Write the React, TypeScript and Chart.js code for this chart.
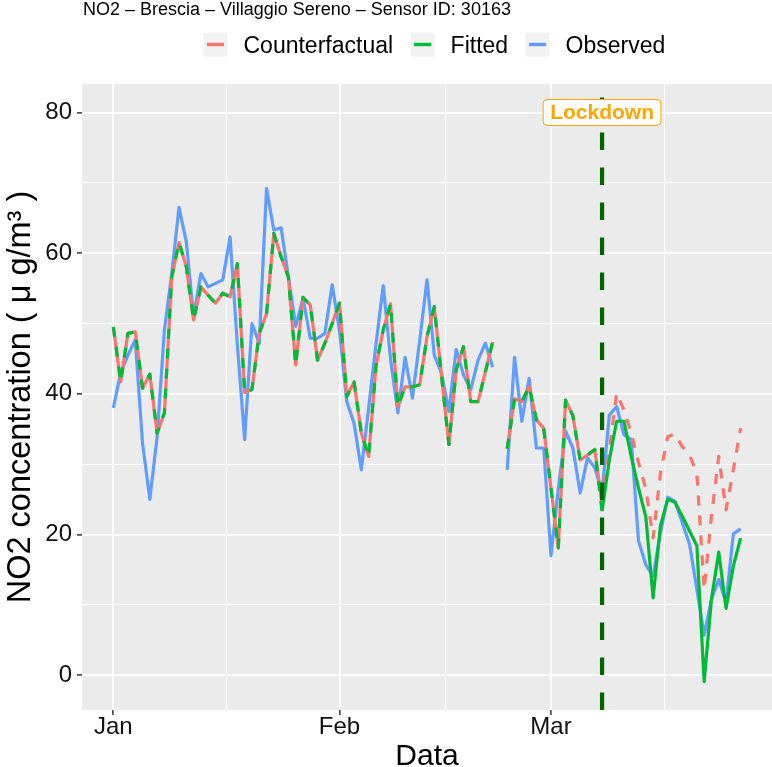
import React, { useEffect, useRef } from 'react';
import { Chart, registerables } from 'chart.js';

Chart.register(...registerables);

// ---------------- data ----------------
const START_DATE = '2020-01-01';
const LOCKDOWN_DATE = '2020-03-08';
const LOCKDOWN_LABEL = 'Lockdown';
const LOCKDOWN_LABEL_Y = 80;

const TITLE = 'NO2 – Brescia – Villaggio Sereno – Sensor ID: 30163';
const X_TITLE = 'Data';
const Y_TITLE = 'NO2 concentration ( μ g/m³ )';

const MONTH_TICK_DATES = ['2020-01-01', '2020-02-01', '2020-03-01'];
const MONTH_TICK_LABELS = ['Jan', 'Feb', 'Mar'];
const MINOR_TICK_DATES = ['2020-01-16T12:00', '2020-02-15T12:00', '2020-03-16T12:00'];
const Y_MAJOR_TICKS = [0, 20, 40, 60, 80];
const Y_MINOR_TICKS = [10, 30, 50, 70];

const SERIES_NAMES = ['Counterfactual', 'Fitted', 'Observed'];

// daily values from 2020-01-01 to 2020-03-27 (null = missing day)
const observed: (number | null)[] = [
  38.0, 43.0, 45.5, 47.7, 33.0, 25.0, 33.9, 49.1, 57.0, 66.5,
  61.6, 51.0, 57.1, 55.2, 55.7, 56.2, 62.3, 47.0, 33.5, 50.0,
  47.2, 69.2, 63.3, 63.6, 56.6, 49.6, 53.6, 47.9, 47.9, 48.6,
  55.5, 49.0, 38.9, 35.8, 29.2, 38.0, 47.0, 55.4, 45.0, 37.3,
  45.2, 39.4, 47.6, 56.2, 45.5, 42.9, 37.5, 46.3, 42.7, 40.6,
  44.8, 47.2, 43.8, null, 29.2, 45.2, 36.1, 42.2, 32.3, 32.3,
  17.0, 26.5, 34.7, 32.3, 25.9, 30.9, 29.5, 26.0, 37.0, 38.2,
  34.2, 33.5, 19.1, 15.7, 14.1, 20.2, 25.3, 24.7, 21.7, 18.6,
  12.2, 5.7, 10.8, 13.6, 10.3, 20.1, 20.8,
];

const counterfactual: (number | null)[] = [
  49.5, 41.7, 48.6, 48.8, 40.8, 42.8, 34.4, 37.3, 56.6, 61.5,
  58.1, 50.5, 55.2, 54.0, 52.9, 54.3, 53.8, 58.5, 40.2, 40.6,
  48.6, 51.4, 62.8, 59.5, 56.6, 44.1, 53.7, 52.6, 44.8, 47.2,
  50.0, 52.9, 39.6, 41.7, 34.4, 31.1, 43.9, 49.1, 52.8, 38.2,
  41.0, 41.0, 41.3, 48.1, 52.4, 42.5, 32.8, 43.4, 46.7, 38.9,
  38.9, 43.1, 47.4, null, 32.2, 39.3, 38.9, 41.0, 36.3, 35.1,
  26.6, 18.1, 39.1, 36.9, 30.6, 31.3, 32.1, 24.3, 32.0, 40.1,
  37.7, 34.4, 30.2, 26.5, 19.5, 28.7, 33.9, 34.3, 32.5, 31.3,
  28.7, 12.2, 22.6, 31.1, 23.5, 29.2, 35.1,
];

const fitted: (number | null)[] = [
  49.5, 41.7, 48.6, 48.8, 40.8, 42.8, 34.4, 37.3, 56.6, 61.5,
  58.1, 50.5, 55.2, 54.0, 52.9, 54.3, 53.8, 58.5, 40.2, 40.6,
  48.6, 51.4, 62.8, 59.5, 56.6, 44.1, 53.7, 52.6, 44.8, 47.2,
  50.0, 52.9, 39.6, 41.7, 34.4, 31.1, 43.9, 49.1, 52.8, 38.2,
  41.0, 41.0, 41.3, 48.1, 52.4, 42.5, 32.8, 43.4, 46.7, 38.9,
  38.9, 43.1, 47.4, null, 32.2, 39.3, 38.9, 41.0, 36.3, 35.1,
  26.6, 18.1, 39.1, 36.9, 30.6, 31.3, 32.1, 23.3, 30.6, 36.1,
  36.1, 31.1, 26.6, 22.5, 11.0, 21.2, 25.0, 24.6, 22.6, 20.5,
  18.4, -0.9, 10.8, 17.5, 9.5, 15.5, 19.5,
];

// ---------------- styles ----------------
const COLORS = { Counterfactual: '#F8766D', Fitted: '#00BA38', Observed: '#619CFF' } as Record<string, string>;
const FONT = '"Liberation Sans", Arial, Helvetica, sans-serif';
const PANEL_BG = '#EBEBEB';
const LINE_W = 3.2;
const DASH = [10, 10];

function dayIndex(s: string): number {
  const iso = s.length > 10 ? s + ':00Z' : s + 'T00:00:00Z';
  const base = Date.parse(START_DATE + 'T00:00:00Z');
  return (Date.parse(iso) - base) / 86400000;
}

const LOCK_IDX = dayIndex(LOCKDOWN_DATE);
const MAJOR_X = MONTH_TICK_DATES.map(dayIndex);
const MINOR_X = MINOR_TICK_DATES.map(dayIndex);

function toPoints(arr: (number | null)[]) {
  return arr.map((v, i) => ({ x: i, y: v }));
}

export default function App() {
  const ref = useRef<HTMLCanvasElement>(null);

  useEffect(() => {
    const canvas = ref.current;
    if (!canvas) return;

    const n = observed.length - 1;
    const xPad = n * 0.05;
    const allY = [...observed, ...counterfactual, ...fitted, LOCKDOWN_LABEL_Y].filter(
      (v) => v !== null,
    ) as number[];
    const yLo = Math.min(...allY);
    const yHi = Math.max(...allY);
    const yPad = (yHi - yLo) * 0.05;

    const panelBg = {
      id: 'panelBg',
      beforeDraw(chart: any) {
        const { ctx, chartArea: a } = chart;
        ctx.save();
        ctx.fillStyle = PANEL_BG;
        ctx.fillRect(a.left, a.top, a.right - a.left, a.bottom - a.top);
        ctx.restore();
      },
    };

    const lockdown = {
      id: 'lockdown',
      afterDatasetsDraw(chart: any) {
        const { ctx, chartArea: a, scales } = chart;
        const x = scales.x.getPixelForValue(LOCK_IDX);
        ctx.save();
        ctx.beginPath();
        ctx.rect(a.left, a.top, a.right - a.left, a.bottom - a.top);
        ctx.clip();
        ctx.strokeStyle = '#006400';
        ctx.lineWidth = 4.2;
        ctx.setLineDash([17.5, 17.5]);
        ctx.beginPath();
        ctx.moveTo(x, a.bottom);
        ctx.lineTo(x, a.top);
        ctx.stroke();
        ctx.restore();

        const y = scales.y.getPixelForValue(LOCKDOWN_LABEL_Y);
        ctx.save();
        ctx.font = `bold 21px ${FONT}`;
        const tw = ctx.measureText(LOCKDOWN_LABEL).width;
        const w = tw + 14;
        const h = 26;
        const bx = x - w / 2;
        const by = y - h / 2;
        const r = 4;
        ctx.beginPath();
        ctx.moveTo(bx + r, by);
        ctx.lineTo(bx + w - r, by);
        ctx.arcTo(bx + w, by, bx + w, by + r, r);
        ctx.lineTo(bx + w, by + h - r);
        ctx.arcTo(bx + w, by + h, bx + w - r, by + h, r);
        ctx.lineTo(bx + r, by + h);
        ctx.arcTo(bx, by + h, bx, by + h - r, r);
        ctx.lineTo(bx, by + r);
        ctx.arcTo(bx, by, bx + r, by, r);
        ctx.closePath();
        ctx.fillStyle = '#FFFFFF';
        ctx.fill();
        ctx.strokeStyle = '#FFA500';
        ctx.lineWidth = 1;
        ctx.stroke();
        ctx.fillStyle = '#FFA500';
        ctx.textAlign = 'center';
        ctx.textBaseline = 'middle';
        ctx.fillText(LOCKDOWN_LABEL, x, y + 1);
        ctx.restore();
      },
    };

    const header = {
      id: 'header',
      afterDraw(chart: any) {
        const { ctx, chartArea: a } = chart;
        ctx.save();
        ctx.fillStyle = '#000';
        ctx.textAlign = 'left';
        ctx.textBaseline = 'alphabetic';
        ctx.font = `18px ${FONT}`;
        ctx.fillText(TITLE, a.left + 1, 14.5);

        // legend
        ctx.font = `23px ${FONT}`;
        let x = 203.5;
        const keyTop = 32.5;
        const key = 24;
        SERIES_NAMES.forEach((name) => {
          ctx.fillStyle = '#F2F2F2';
          ctx.fillRect(x, keyTop, key, key);
          ctx.strokeStyle = COLORS[name];
          ctx.lineWidth = 3.5;
          ctx.setLineDash([]);
          ctx.beginPath();
          ctx.moveTo(x + 3.5, keyTop + key / 2);
          ctx.lineTo(x + key - 3.5, keyTop + key / 2);
          ctx.stroke();
          ctx.fillStyle = '#000';
          const tx = x + key + 16;
          ctx.fillText(name, tx, 53);
          x = tx + ctx.measureText(name).width + 17.5;
        });
        ctx.restore();
      },
    };

    const isMajorX = (v: number) => MAJOR_X.some((m) => Math.abs(m - v) < 1e-6);
    const isMajorY = (v: number) => Y_MAJOR_TICKS.includes(v);

    const mkDataset = (name: string, arr: (number | null)[], segDash: (i: number) => number[], order: number) => ({
      label: name,
      data: toPoints(arr),
      borderColor: COLORS[name],
      backgroundColor: COLORS[name],
      borderWidth: LINE_W,
      borderDash: [],
      borderJoinStyle: 'round',
      borderCapStyle: 'butt',
      pointRadius: 0,
      pointHoverRadius: 0,
      fill: false,
      tension: 0,
      spanGaps: false,
      order,
      segment: {
        borderDash: (ctx: any) => segDash(ctx.p0DataIndex),
      },
    });

    const chart = new Chart(canvas, {
      type: 'line',
      data: {
        datasets: [
          mkDataset('Fitted', fitted, (i) => (i >= LOCK_IDX ? [] : DASH), 0),
          mkDataset('Counterfactual', counterfactual, (i) => (i >= LOCK_IDX ? DASH : []), 1),
          mkDataset('Observed', observed, () => [], 2),
        ] as any,
      },
      options: {
        responsive: false,
        animation: false,
        devicePixelRatio: 1,
        events: [],
        layout: { padding: { top: 84, left: 0, right: 0, bottom: 0 } },
        plugins: {
          legend: { display: false },
          title: { display: false },
          tooltip: { enabled: false },
        },
        scales: {
          x: {
            type: 'linear',
            min: -xPad,
            max: n + xPad,
            afterBuildTicks: (s: any) => {
              s.ticks = [...MAJOR_X, ...MINOR_X].sort((a, b) => a - b).map((v) => ({ value: v }));
            },
            afterFit: (s: any) => {
              s.height = 57;
            },
            ticks: {
              autoSkip: false,
              maxRotation: 0,
              padding: 0,
              color: '#111',
              font: { family: FONT, size: 24, lineHeight: 1 },
              callback: (v: any) => {
                const k = MAJOR_X.findIndex((m) => Math.abs(m - Number(v)) < 1e-6);
                return k >= 0 ? MONTH_TICK_LABELS[k] : '';
              },
            },
            grid: {
              color: '#FFFFFF',
              lineWidth: (c: any) => (c.tick && isMajorX(c.tick.value) ? 1.8 : 1),
              drawTicks: true,
              tickLength: 5,
              tickWidth: 1.5,
              tickColor: (c: any) => (c.tick && isMajorX(c.tick.value) ? '#333333' : 'rgba(0,0,0,0)'),
            },
            border: { display: false },
            title: {
              display: true,
              text: X_TITLE,
              color: '#000',
              font: { family: FONT, size: 30, lineHeight: 1 },
              padding: { top: 0, bottom: -5 },
            },
          },
          y: {
            type: 'linear',
            min: yLo - yPad,
            max: yHi + yPad,
            afterBuildTicks: (s: any) => {
              s.ticks = [...Y_MAJOR_TICKS, ...Y_MINOR_TICKS].sort((a, b) => a - b).map((v) => ({ value: v }));
            },
            afterFit: (s: any) => {
              s.width = 82;
            },
            ticks: {
              padding: 5,
              color: '#111',
              font: { family: FONT, size: 24, lineHeight: 1 },
              callback: (v: any) => (isMajorY(Number(v)) ? String(v) : ''),
            },
            grid: {
              color: '#FFFFFF',
              lineWidth: (c: any) => (c.tick && isMajorY(c.tick.value) ? 1.8 : 1),
              drawTicks: true,
              tickLength: 5,
              tickWidth: 1.5,
              tickColor: (c: any) => (c.tick && isMajorY(c.tick.value) ? '#333333' : 'rgba(0,0,0,0)'),
            },
            border: { display: false },
            title: {
              display: true,
              text: Y_TITLE,
              color: '#000',
              font: { family: FONT, size: 32.5, lineHeight: 1 },
              padding: { top: 5, bottom: 0 },
            },
          },
        },
      } as any,
      plugins: [panelBg, lockdown, header],
    });

    return () => chart.destroy();
  }, []);

  return (
    <div style={{ position: 'fixed', left: 0, top: 0, width: 772, height: 767, background: '#FFFFFF' }}>
      <canvas ref={ref} width={772} height={767} style={{ display: 'block', width: 772, height: 767 }} />
    </div>
  );
}
